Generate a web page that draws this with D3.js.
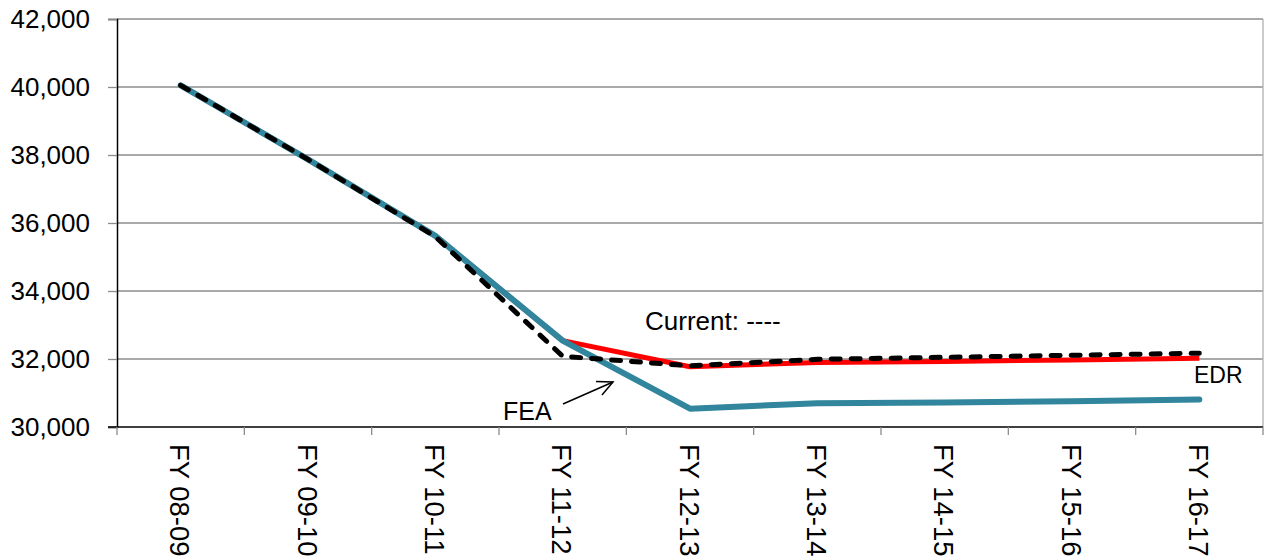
<!DOCTYPE html>
<html><head><meta charset="utf-8">
<script src="https://cdn.jsdelivr.net/npm/d3@7"></script>
<style>body{margin:0;background:#fff}svg{display:block}</style>
</head><body>
<svg id="c" width="1264" height="556"></svg>
<script>
const categories = ["FY 08-09","FY 09-10","FY 10-11","FY 11-12","FY 12-13","FY 13-14","FY 14-15","FY 15-16","FY 16-17"];
const feaValues = [40050, 37870, 35620, 32540, 30540, 30700, 30720, 30760, 30810];
const edrValues = [40050, 37870, 35620, 32540, 31770, 31900, 31930, 31970, 32020];
const currentValues = [40050, 37870, 35600, 32080, 31800, 31990, 32050, 32110, 32170];
const yTicks = [30000, 32000, 34000, 36000, 38000, 40000, 42000];

const svg = d3.select("#c");
const L = 117, R = 1263, T = 19, B = 427;
const x = d3.scaleBand().domain(categories).range([L, R]);
const y = d3.scaleLinear().domain([30000, 42000]).range([B, T]);
const font = "Arial, 'Liberation Sans', sans-serif";

// gridlines
svg.append("g").selectAll("line").data(yTicks.filter(d => d > 30000)).join("line")
  .attr("x1", L).attr("x2", R).attr("y1", d => y(d)).attr("y2", d => y(d))
  .attr("stroke", "#8c8c8c").attr("stroke-width", 1.3);
// right border
svg.append("line").attr("x1", R).attr("x2", R).attr("y1", T).attr("y2", B)
  .attr("stroke", "#b0b0b0").attr("stroke-width", 1.3);

// y axis
const ya = svg.append("g").attr("transform", `translate(${L},0)`)
  .call(d3.axisLeft(y).tickValues(yTicks).tickSize(9).tickPadding(18).tickFormat(d3.format(",")));
ya.select(".domain").attr("stroke", "#000").attr("stroke-width", 1.5);
ya.selectAll(".tick line").attr("stroke", "#8c8c8c").attr("stroke-width", 1.3);
ya.selectAll("text").attr("font-family", font).attr("font-size", 26).attr("fill", "#000");

// x axis
const xa = svg.append("g").attr("transform", `translate(0,${B})`)
  .call(d3.axisBottom(x).tickSize(0).tickFormat(""));
xa.select(".domain").remove();
svg.append("line").attr("x1", L - 9).attr("x2", R).attr("y1", B).attr("y2", B)
  .attr("stroke", "#000").attr("stroke-width", 1.5);
const bounds = categories.map((c, i) => L + i * x.step()).concat([R]);
svg.append("g").selectAll("line").data(bounds).join("line")
  .attr("x1", d => d).attr("x2", d => d).attr("y1", B).attr("y2", B + 8)
  .attr("stroke", "#8c8c8c").attr("stroke-width", 1.3);
svg.append("g").selectAll("text").data(categories).join("text")
  .attr("transform", d => `translate(${x(d) + x.bandwidth() / 2 - 1},${B + 17}) rotate(90)`)
  .attr("font-family", font).attr("font-size", 27.5).attr("fill", "#000")
  .attr("dominant-baseline", "central")
  .text(d => d);

const line = d3.line().x((d, i) => x(categories[i]) + x.bandwidth() / 2).y(d => y(d));

svg.append("path").datum(edrValues).attr("d", line).attr("fill", "none")
  .attr("stroke", "#ff0000").attr("stroke-width", 5).attr("stroke-linejoin", "round");
svg.append("path").datum(feaValues).attr("d", line).attr("fill", "none")
  .attr("stroke", "#31859c").attr("stroke-width", 6).attr("stroke-linejoin", "round").attr("stroke-linecap", "round");
svg.append("path").datum(currentValues).attr("d", line).attr("fill", "none")
  .attr("stroke", "#000").attr("stroke-width", 5).attr("stroke-dasharray", "9,11")
  .attr("stroke-linecap", "round").attr("stroke-linejoin", "round");

// annotations
const afont = "'Liberation Sans', Arial, sans-serif";
svg.append("text").attr("x", 645).attr("y", 330).attr("font-family", afont).attr("font-size", 26).text("Current: ----");
svg.append("text").attr("x", 503).attr("y", 420).attr("font-family", afont).attr("font-size", 25).text("FEA");
svg.append("text").attr("x", 1194).attr("y", 383).attr("font-family", afont).attr("font-size", 23).text("EDR");

// arrow
const ax1 = 563, ay1 = 404, ax2 = 613, ay2 = 382;
svg.append("line").attr("x1", ax1).attr("y1", ay1).attr("x2", ax2).attr("y2", ay2)
  .attr("stroke", "#000").attr("stroke-width", 1.5);
const ang = Math.atan2(ay2 - ay1, ax2 - ax1), hl = 17, ha = 0.45;
svg.append("polyline")
  .attr("points", [[ax2 - hl * Math.cos(ang - ha), ay2 - hl * Math.sin(ang - ha)], [ax2, ay2], [ax2 - hl * Math.cos(ang + ha), ay2 - hl * Math.sin(ang + ha)]].map(p => p.join(",")).join(" "))
  .attr("fill", "none").attr("stroke", "#000").attr("stroke-width", 1.5);
</script>
</body></html>
